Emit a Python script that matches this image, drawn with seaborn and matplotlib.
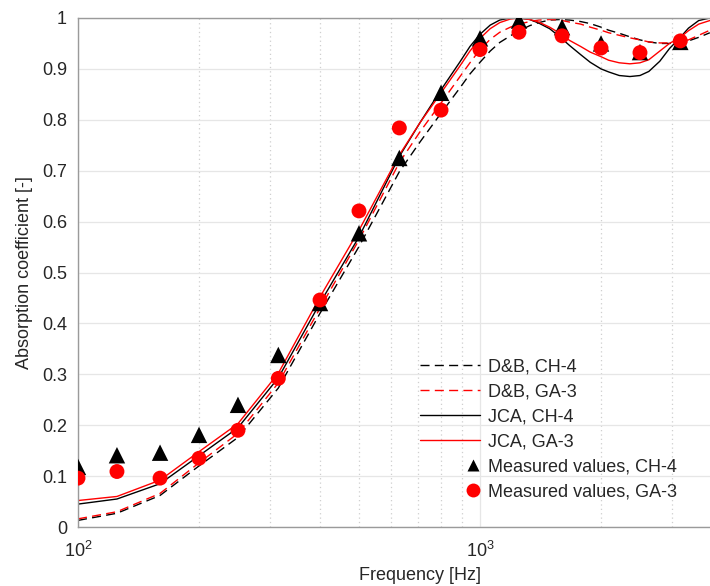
import numpy as np
import pandas as pd
import matplotlib
matplotlib.use('Agg')
import matplotlib.pyplot as plt
import seaborn as sns
from matplotlib.lines import Line2D
from matplotlib.legend_handler import HandlerLine2D
from matplotlib.ticker import FixedLocator, FuncFormatter, NullFormatter

# ---- measured third-octave band data ----
band_freq = [100, 125, 160, 200, 250, 315, 400, 500, 630, 800, 1000, 1250, 1600, 2000, 2500, 3150]
meas_ch4 = [0.118, 0.141, 0.146, 0.181, 0.24, 0.338, 0.44, 0.577, 0.725, 0.853, 0.96, 0.995, 0.982, 0.95, 0.933, 0.953]
meas_ga3 = [0.096, 0.109, 0.096, 0.135, 0.19, 0.292, 0.446, 0.621, 0.784, 0.819, 0.938, 0.972, 0.965, 0.941, 0.932, 0.955]

# ---- model curves ----
curve_freq = [100, 125, 160, 200, 250, 315, 400, 500, 630, 710, 800, 890, 944, 1000, 1060, 1120,
              1190, 1250, 1330, 1400, 1490, 1580, 1670, 1780, 1880, 2000, 2090, 2220, 2360, 2500,
              2630, 2800, 2960, 3150, 3300, 3500, 3730]
jca_ch4 = [0.045, 0.055, 0.085, 0.14, 0.195, 0.293, 0.44, 0.57, 0.728, 0.795, 0.859, 0.913, 0.944, 0.968,
           0.986, 0.996, 1.0, 1.0, 0.997, 0.99, 0.979, 0.963, 0.946, 0.928, 0.913, 0.90, 0.894, 0.887,
           0.885, 0.887, 0.895, 0.915, 0.94, 0.962, 0.98, 0.995, 1.0]
jca_ga3 = [0.052, 0.06, 0.092, 0.148, 0.203, 0.302, 0.452, 0.583, 0.731, 0.795, 0.853, 0.905, 0.935, 0.96,
           0.979, 0.991, 0.998, 1.0, 0.997, 0.992, 0.982, 0.97, 0.956, 0.944, 0.933, 0.924, 0.917, 0.912,
           0.91, 0.912, 0.918, 0.935, 0.95, 0.962, 0.975, 0.988, 0.995]
db_ga3 = [0.016, 0.03, 0.066, 0.126, 0.184, 0.283, 0.43, 0.564, 0.716, 0.777, 0.833, 0.884, 0.912, 0.938,
          0.958, 0.972, 0.982, 0.988, 0.993, 0.996, 0.997, 0.996, 0.992, 0.988, 0.982, 0.976, 0.971, 0.966,
          0.961, 0.957, 0.953, 0.951, 0.951, 0.954, 0.957, 0.966, 0.976]
db_ch4 = [0.013, 0.027, 0.062, 0.12, 0.176, 0.273, 0.42, 0.551, 0.698, 0.757, 0.813, 0.862, 0.89, 0.913,
          0.935, 0.952, 0.965, 0.975, 0.985, 0.991, 0.996, 0.997, 0.996, 0.993, 0.989, 0.982, 0.976, 0.97,
          0.963, 0.957, 0.953, 0.95, 0.95, 0.952, 0.955, 0.962, 0.971]

y_ticks = [0, 0.1, 0.2, 0.3, 0.4, 0.5, 0.6, 0.7, 0.8, 0.9, 1.0]
x_major = [100, 1000]
x_minor = [200, 300, 400, 500, 600, 700, 800, 900, 2000, 3000, 4000]

sns.set_style('white')
plt.rcParams['font.family'] = ['Liberation Sans', 'DejaVu Sans']
plt.rcParams['mathtext.default'] = 'regular'

curves = pd.DataFrame({'f': curve_freq, 'db_ch4': db_ch4, 'db_ga3': db_ga3,
                       'jca_ch4': jca_ch4, 'jca_ga3': jca_ga3})
meas = pd.DataFrame({'f': band_freq, 'ch4': meas_ch4, 'ga3': meas_ga3})

fig = plt.figure(figsize=(7.1, 5.86), dpi=100)
ax = fig.add_axes([78 / 710, 59 / 586, 683 / 710, 509 / 586])
ax.set_xscale('log')

lw = 1.0
dash = (6.5, 3.8)
sns.lineplot(data=curves, x='f', y='db_ch4', ax=ax, color='black', lw=lw, zorder=2)
ax.lines[-1].set_dashes(dash)
sns.lineplot(data=curves, x='f', y='db_ga3', ax=ax, color='#ff0000', lw=lw, zorder=2)
ax.lines[-1].set_dashes(dash)
sns.lineplot(data=curves, x='f', y='jca_ch4', ax=ax, color='black', lw=lw, zorder=2)
sns.lineplot(data=curves, x='f', y='jca_ga3', ax=ax, color='#ff0000', lw=lw, zorder=2)
sns.scatterplot(data=meas, x='f', y='ch4', ax=ax, marker='^', color='black', s=140,
                edgecolor='none', linewidth=0, zorder=3)
sns.scatterplot(data=meas, x='f', y='ga3', ax=ax, marker='o', color='#ff0000', s=115,
                edgecolor='none', linewidth=0, zorder=4)

ax.set_xlim(100, 5000)
ax.set_ylim(0, 1)

ax.xaxis.set_major_locator(FixedLocator(x_major))
ax.xaxis.set_minor_locator(FixedLocator(x_minor))
ax.xaxis.set_major_formatter(FuncFormatter(lambda v, p: r'$10^{%d}$' % int(round(np.log10(v)))))
ax.xaxis.set_minor_formatter(NullFormatter())
ax.yaxis.set_major_locator(FixedLocator(y_ticks))
ax.yaxis.set_major_formatter(FuncFormatter(lambda v, p: '%g' % v))

gc = '#e6e6e6'
ax.grid(True, which='major', axis='both', color=gc, lw=0.9, zorder=0)
ax.grid(True, which='minor', axis='x', color='#cfcfcf', lw=0.9, ls=(0, (1, 2.5)), zorder=0)
ax.set_axisbelow(True)

spc = '#9a9a9a'
for s in ['left', 'top', 'bottom']:
    ax.spines[s].set_color(spc)
    ax.spines[s].set_linewidth(1.0)
ax.spines['right'].set_visible(False)

ax.tick_params(axis='both', which='major', direction='in', length=5, width=0.8, color=spc,
               labelsize=13, labelcolor='#262626', pad=8)
ax.tick_params(axis='x', which='minor', direction='in', length=3, width=0.8, color=spc)
ax.tick_params(axis='x', which='major', pad=10)

ax.set_xlabel('Frequency [Hz]', fontsize=13, color='#262626', labelpad=4)
ax.set_ylabel('Absorption coefficient [-]', fontsize=13, color='#262626', labelpad=6)


class RightMarker(HandlerLine2D):
    def get_xdata(self, legend, xdescent, ydescent, width, height, fontsize):
        x = -xdescent + width - 0.4 * fontsize
        return np.array([x, x]), np.array([x])


h_db_ch4 = Line2D([], [], color='black', lw=lw, dashes=dash)
h_db_ga3 = Line2D([], [], color='#ff0000', lw=lw, dashes=dash)
h_jca_ch4 = Line2D([], [], color='black', lw=lw)
h_jca_ga3 = Line2D([], [], color='#ff0000', lw=lw)
h_m_ch4 = Line2D([], [], ls='none', marker='^', color='black', markersize=9, mec='none')
h_m_ga3 = Line2D([], [], ls='none', marker='o', color='#ff0000', markersize=10, mec='none')

leg = ax.legend([h_db_ch4, h_db_ga3, h_jca_ch4, h_jca_ga3, h_m_ch4, h_m_ga3],
                ['D&B, CH-4', 'D&B, GA-3', 'JCA, CH-4', 'JCA, GA-3',
                 'Measured values, CH-4', 'Measured values, GA-3'],
                loc='upper left', bbox_to_anchor=(0.5007, 0.332), borderpad=0, borderaxespad=0,
                frameon=False, fontsize=13, handlelength=3.33, handletextpad=0.45,
                labelspacing=0.45,
                handler_map={h_m_ch4: RightMarker(numpoints=1), h_m_ga3: RightMarker(numpoints=1)})
for t in leg.get_texts():
    t.set_color('#262626')

fig.savefig('out.png', dpi=100)
